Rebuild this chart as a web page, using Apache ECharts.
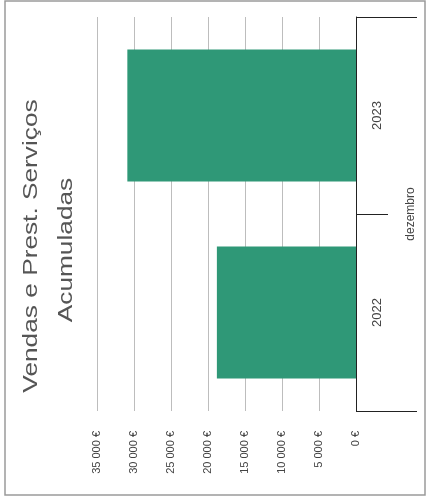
<!DOCTYPE html>
<html>
<head>
<meta charset="utf-8">
<script src="https://cdn.jsdelivr.net/npm/echarts@6/dist/echarts.min.js"></script>
<style>
html,body{margin:0;padding:0;background:#fff;}
#c{width:429px;height:499px;}
</style>
</head>
<body>
<div id="c"></div>
<script>
var categories = ['2022', '2023'];
var groupLabels = ['dezembro'];
var values = [18800, 30900];
var titleLines = ['Vendas e Prest. Serviços', 'Acumuladas'];
var valueMin = 0, valueMax = 35000, valueStep = 5000;
// outer-level group boundaries, in category units (edges of the 'dezembro' group)
var groupEdges = [-0.5, 1.5];

function fmt(v) {
  return String(v).replace(/\B(?=(\d{3})+(?!\d))/g, ' ') + ' €';
}

var FONT = 'Liberation Sans, Arial, sans-serif';
var OUTER_TICK = 61;
var chart = echarts.init(document.getElementById('c'), null, {renderer: 'canvas'});
chart.setOption({
  animation: false,
  backgroundColor: '#fff',
  textStyle: {fontFamily: FONT},
  grid: {left: 97, right: 73, top: 17, bottom: 88, containLabel: false},
  xAxis: {
    type: 'value',
    inverse: true,
    min: valueMin, max: valueMax, interval: valueStep,
    position: 'bottom',
    axisLine: {show: false},
    axisTick: {show: false},
    splitLine: {show: true, lineStyle: {color: '#bdbdbd', width: 1}},
    axisLabel: {
      rotate: 90, margin: 20, fontSize: 11, color: '#444',
      fontFamily: FONT,
      formatter: fmt
    }
  },
  yAxis: [{
    type: 'category',
    data: categories,
    position: 'right',
    axisLine: {show: true, lineStyle: {color: '#222', width: 1}},
    axisTick: {show: true, length: 32, lineStyle: {color: '#222', width: 1}},
    axisLabel: {rotate: 90, margin: 15, fontSize: 13, color: '#444', fontFamily: FONT},
    splitLine: {show: false}
  }, {
    type: 'category',
    data: groupLabels,
    position: 'right',
    offset: 0,
    axisLine: {show: false},
    axisTick: {show: false},
    axisLabel: {rotate: 90, margin: 49, fontSize: 12, color: '#444', fontFamily: FONT},
    splitLine: {show: false}
  }, {
    type: 'value',
    show: false,
    min: -0.5, max: categories.length - 0.5,
    position: 'right',
    splitLine: {show: false}
  }],
  series: [{
    type: 'bar',
    data: values,
    yAxisIndex: 0,
    barCategoryGap: '33%',
    itemStyle: {color: '#2f9877'}
  }, {
    type: 'custom',
    yAxisIndex: 2,
    clip: false,
    silent: true,
    data: groupEdges.map(function (e) { return [0, e]; }),
    renderItem: function (params, api) {
      var p = api.coord([api.value(0), api.value(1)]);
      var y = Math.round(p[1] - 0.5) + 0.5;
      return {
        type: 'line',
        shape: {x1: p[0], y1: y, x2: p[0] + OUTER_TICK, y2: y},
        style: {stroke: '#222', lineWidth: 1}
      };
    }
  }],
  graphic: [
    {
      type: 'rect', silent: true,
      shape: {x: 5, y: 1, width: 420, height: 494},
      style: {fill: null, stroke: '#9a9a9a', lineWidth: 1.5}
    },
    {
      type: 'text', silent: true,
      x: 31, y: 246, rotation: Math.PI / 2, scaleX: 1.25,
      style: {text: titleLines[0], font: '21px "Liberation Sans", Arial, sans-serif',
        fill: '#555', textAlign: 'center', textVerticalAlign: 'middle'}
    },
    {
      type: 'text', silent: true,
      x: 66, y: 250, rotation: Math.PI / 2, scaleX: 1.25,
      style: {text: titleLines[1], font: '21px "Liberation Sans", Arial, sans-serif',
        fill: '#555', textAlign: 'center', textVerticalAlign: 'middle'}
    }
  ]
});
</script>
</body>
</html>
